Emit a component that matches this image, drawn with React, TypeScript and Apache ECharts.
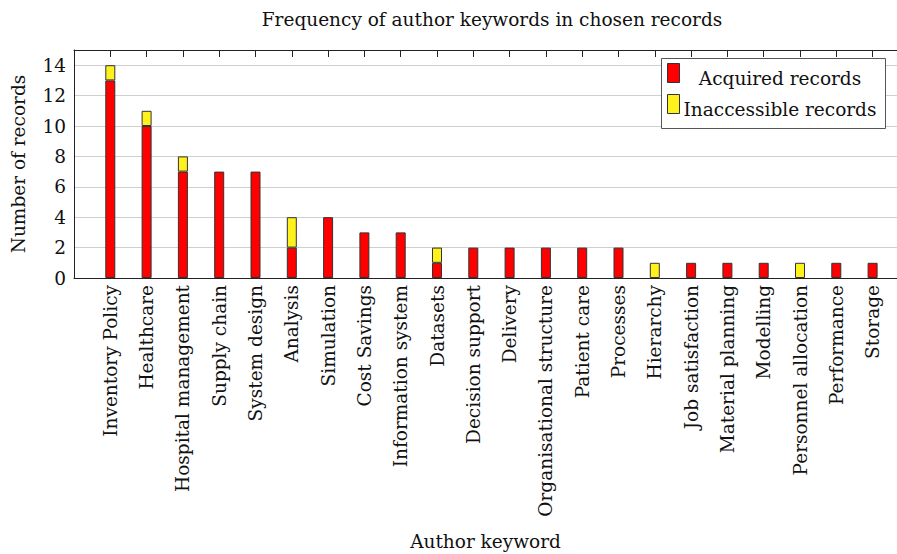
import React, { useEffect, useRef } from "react";
import * as echarts from "echarts";

const categories = [
  "Inventory Policy", "Healthcare", "Hospital management", "Supply chain", "System design",
  "Analysis", "Simulation", "Cost Savings", "Information system", "Datasets",
  "Decision support", "Delivery", "Organisational structure", "Patient care", "Processes",
  "Hierarchy", "Job satisfaction", "Material planning", "Modelling", "Personnel allocation",
  "Performance", "Storage",
];
const acquired = [13, 10, 7, 7, 7, 2, 4, 3, 3, 1, 2, 2, 2, 2, 2, 0, 1, 1, 1, 0, 1, 1];
const inaccessible = [1, 1, 1, 0, 0, 2, 0, 0, 0, 1, 0, 0, 0, 0, 0, 1, 0, 0, 0, 1, 0, 0];
const seriesNames = ["Acquired records", "Inaccessible records"];
const seriesColors = ["#ff0000", "#fff21c"];
const title = "Frequency of author keywords in chosen records";
const xName = "Author keyword";
const yName = "Number of records";

const FONT = "'DejaVu Serif', serif";
const FS = 18.5;

const LEFT = 74;
const TOP = 50;
const BOTTOM = 276;
const STEP = 36.3;

export default function App() {
  const ref = useRef<HTMLDivElement>(null);
  useEffect(() => {
    if (!ref.current) return;
    const chart = echarts.init(ref.current, null, { renderer: "svg" });
    const n = categories.length;
    const barLeft = LEFT + STEP / 2;
    const barRight = 897 - (barLeft + STEP * n);
    const line = { show: true, onZero: false, lineStyle: { color: "#222", width: 1 } };
    const textStyle = { fontFamily: FONT, fontSize: FS, color: "#111" };
    chart.setOption({
      animation: false,
      backgroundColor: "#fff",
      grid: [
        { left: LEFT, top: TOP, right: 0, bottom: BOTTOM, containLabel: false },
        { left: barLeft, top: TOP, right: barRight, bottom: BOTTOM, containLabel: false },
      ],
      xAxis: [
        {
          gridIndex: 0, type: "value", position: "bottom", min: 0, max: 1,
          axisLine: line, axisTick: { show: false }, axisLabel: { show: false }, splitLine: { show: false },
          name: xName, nameLocation: "middle", nameGap: 254, nameTextStyle: textStyle,
        },
        {
          gridIndex: 0, type: "value", position: "top", min: 0, max: 1,
          axisLine: line, axisTick: { show: false }, axisLabel: { show: false }, splitLine: { show: false },
        },
        {
          gridIndex: 1, type: "category", position: "bottom", data: categories,
          axisLine: line,
          axisTick: { show: true, inside: true, alignWithLabel: true, interval: 0, length: 7, lineStyle: { color: "#222" } },
          axisLabel: { rotate: 90, margin: 7, interval: 0, ...textStyle },
        },
        {
          gridIndex: 1, type: "category", position: "top", data: categories, offset: -7,
          axisLine: { show: false, onZero: false },
          axisTick: { show: true, inside: false, alignWithLabel: true, interval: 0, length: 7, lineStyle: { color: "#222", width: 1 } },
          axisLabel: { show: true, interval: 0, formatter: () => "" },
          splitLine: { show: false },
        },
      ],
      yAxis: [
        {
          gridIndex: 0, type: "value", min: 0, max: 15, interval: 2,
          axisLine: line, axisTick: { show: false },
          splitLine: { show: true, lineStyle: { color: "#cfcfcf", width: 1 } },
          axisLabel: { margin: 8, showMaxLabel: false, ...textStyle },
          name: yName, nameLocation: "middle", nameGap: 46, nameTextStyle: textStyle,
        },
        {
          gridIndex: 1, type: "value", min: 0, max: 15, interval: 2,
          axisLine: { show: false }, axisTick: { show: false }, axisLabel: { show: false },
          splitLine: { show: false },
        },
      ],
      series: [acquired, inaccessible].map((arr, k) => ({
        type: "bar",
        name: seriesNames[k],
        stack: "total",
        xAxisIndex: 2,
        yAxisIndex: 1,
        barWidth: 10,
        data: arr.map((v) => (v === 0 ? "-" : v)),
        itemStyle: { color: seriesColors[k], borderColor: "#333", borderWidth: 1 },
      })),
      graphic: [
        {
          type: "text", x: 492, y: 19,
          style: { text: title, font: `${FS}px ${FONT}`, fill: "#111", textAlign: "center", textVerticalAlign: "middle" },
        },
        {
          type: "rect", shape: { x: 661.5, y: 58.5, width: 224, height: 70 },
          style: { fill: "#fff", stroke: "#555", lineWidth: 1 }, z: 100,
        },
        ...seriesNames.flatMap((nm, k) => [
          {
            type: "rect", shape: { x: 667.5, y: 63.5 + k * 31, width: 12, height: 19 },
            style: { fill: seriesColors[k], stroke: "#333", lineWidth: 1 }, z: 101,
          },
          {
            type: "text", x: 780, y: 78 + k * 31,
            style: { text: nm, font: `${FS}px ${FONT}`, fill: "#111", textAlign: "center", textVerticalAlign: "middle" },
            z: 101,
          },
        ]),
      ],
    });
    return () => chart.dispose();
  }, []);
  return (
    <div ref={ref} style={{ position: "absolute", left: 0, top: 0, width: 897, height: 554, background: "#fff" }} />
  );
}
